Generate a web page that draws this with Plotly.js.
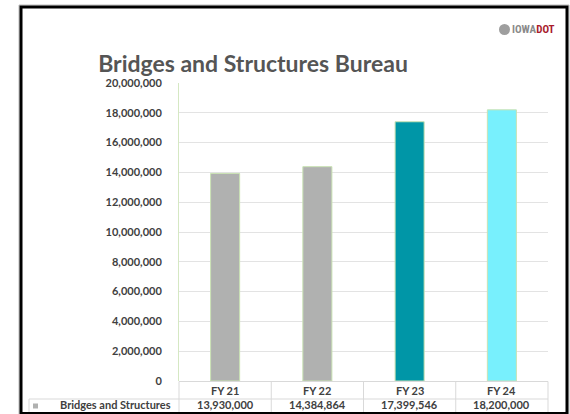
<!DOCTYPE html>
<html><head><meta charset="utf-8">
<script src="https://cdn.plot.ly/plotly-3.0.1.min.js"></script>
<style>html,body{margin:0;padding:0;background:#fff;}#chart{width:570px;height:414px;}</style>
</head><body><div id="chart"></div>
<script>
const categories = ["FY 21", "FY 22", "FY 23", "FY 24"];
const values = [13930000, 14384864, 17399546, 18200000];
const barColors = ["#b0b1b0", "#b0b1b0", "#0096a7", "#78f0fd"];
const seriesName = "Bridges and Structures";
const yTicks = [0, 2000000, 4000000, 6000000, 8000000, 10000000, 12000000, 14000000, 16000000, 18000000, 20000000];
const chartTitle = "Bridges and Structures Bureau";

const W = 570, H = 414;
const L = 179, R = 548, T = 83, B = 381;
const px = x => (x - L) / (R - L);
const py = y => (B - y) / (B - T);
const fmt = v => v.toLocaleString("en-US");
const FONT = "Lato, 'Open Sans', sans-serif";
const TXT = "#404040";
const GRID = "#d9d9d9";

const shapes = [];
const annotations = [];
function line(x0, y0, x1, y1, color, w) {
  shapes.push({type: "line", xref: "paper", yref: "paper", x0: px(x0), y0: py(y0), x1: px(x1), y1: py(y1),
    line: {color: color, width: w}});
}
// outer frame
shapes.push({type: "rect", xref: "paper", yref: "paper", x0: px(19), y0: py(5), x1: px(569), y1: py(416),
  line: {color: "#bbbbbb", width: 1}});
shapes.push({type: "rect", xref: "paper", yref: "paper", x0: px(21), y0: py(7), x1: px(567), y1: py(413.5),
  line: {color: "#000000", width: 3}});
// data table grid
line(L, 381.5, R, 381.5, GRID, 1);
line(29, 399, R, 399, GRID, 1);
line(29, 399, 29, 412, GRID, 1);
const colW = (R - L) / categories.length;
for (let i = 0; i <= categories.length; i++) {
  const x = L + i * colW;
  line(x, 381.5, x, 412, GRID, 1);
}
// legend key
shapes.push({type: "rect", xref: "paper", yref: "paper", x0: px(33), y0: py(403.5), x1: px(38), y1: py(408.5),
  fillcolor: barColors[0], line: {width: 0}});
annotations.push({xref: "paper", yref: "paper", x: px(173), y: py(405), xanchor: "right", yanchor: "middle",
  text: "<b>" + seriesName + "</b>", showarrow: false, font: {family: FONT, size: 11, color: TXT}});
categories.forEach((c, i) => {
  const cx = px(L + (i + 0.5) * colW);
  annotations.push({xref: "paper", yref: "paper", x: cx, y: py(390.5), xanchor: "center", yanchor: "middle",
    text: "<b>" + c + "</b>", showarrow: false, font: {family: FONT, size: 11, color: TXT}});
  annotations.push({xref: "paper", yref: "paper", x: cx, y: py(405), xanchor: "center", yanchor: "middle",
    text: "<b>" + fmt(values[i]) + "</b>", showarrow: false, font: {family: FONT, size: 11, color: TXT}});
});
// logo
shapes.push({type: "circle", xref: "paper", yref: "paper", x0: px(499), y0: py(24), x1: px(510), y1: py(35),
  fillcolor: "#9e9e9e", line: {width: 0}});
shapes.push({type: "path", xref: "paper", yref: "paper",
  path: `M ${px(504.5)} ${py(35)} A 1 1 0 0 1 ${px(499)} ${py(29.5)} L ${px(503)} ${py(29.5)} Z`,
  fillcolor: "#b01c2e", line: {width: 0}});
annotations.push({xref: "paper", yref: "paper", x: px(510), y: py(30), xanchor: "left", yanchor: "middle",
  text: "<b><span style='color:#8a8a8a'>IOWA</span><span style='color:#a81c2c'>DOT</span></b>",
  showarrow: false, font: {family: "'Liberation Sans Narrow', 'Roboto Condensed', 'Roboto', sans-serif", size: 11}});

const trace = {
  type: "bar", x: categories, y: values, name: seriesName,
  marker: {color: barColors, line: {color: "#c9e2b3", width: 1}},
  hoverinfo: "none"
};

const layout = {
  width: W, height: H,
  margin: {l: L, r: W - R, t: T, b: H - B, pad: 0},
  paper_bgcolor: "#ffffff", plot_bgcolor: "#ffffff",
  showlegend: false,
  bargap: 0.685,
  title: {text: "<b>" + chartTitle + "</b>", x: 253 / W, xanchor: "center", xref: "container",
    y: 1 - 64 / H, yref: "container", yanchor: "middle",
    font: {family: FONT, size: 23, color: "#555555"}},
  xaxis: {showticklabels: false, showgrid: false, zeroline: false, showline: false, ticks: ""},
  yaxis: {range: [0, 20000000], tickvals: yTicks, ticktext: yTicks.map(v => "<b>" + fmt(v) + "</b>"),
    showgrid: true, gridcolor: "#e3e3e3", gridwidth: 1, zeroline: false,
    showline: true, linecolor: "#d5e8c3", linewidth: 1, ticks: "", ticklabelstandoff: 14,
    tickfont: {family: FONT, size: 11, color: TXT}},
  shapes: shapes, annotations: annotations
};
Plotly.newPlot("chart", [trace], layout, {displayModeBar: false, staticPlot: true});
</script></body></html>
